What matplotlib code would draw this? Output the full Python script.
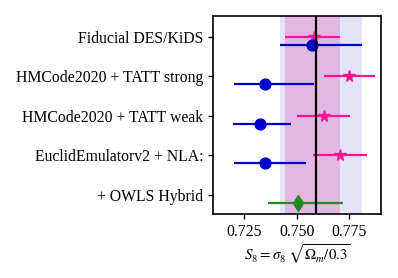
import matplotlib
matplotlib.use("Agg")
import matplotlib.pyplot as plt
import numpy as np

plt.rcParams["font.family"] = "Liberation Serif"
plt.rcParams["mathtext.fontset"] = "stix"

# Data
labels = ["Fiducial DES/KiDS", "HMCode2020 + TATT strong", "HMCode2020 + TATT weak",
          "EuclidEmulatorv2 + NLA:", "+ OWLS Hybrid"]

# pink stars (upper row of each pair)
pink_mid = [0.7582, 0.7749, 0.7630, 0.7706]
pink_lo = [0.7444, 0.7629, 0.7499, 0.7576]
pink_hi = [0.7703, 0.7870, 0.7754, 0.7833]

# blue circles (lower row)
blue_mid = [0.7571, 0.7348, 0.7325, 0.7346]
blue_lo = [0.7420, 0.7202, 0.7195, 0.7198]
blue_hi = [0.7811, 0.7581, 0.7470, 0.7541]

# green diamond
green_mid = 0.7505
green_lo = 0.7360
green_hi = 0.7720

fid_line = 0.759
pink_band = (0.7444, 0.7703)
blue_band = (0.7420, 0.7811)

fig = plt.figure(figsize=(3.98, 2.78), dpi=100)
ax = fig.add_axes([0.535, 0.230, 0.422, 0.712])

ypos = np.arange(len(labels))[::-1]  # 4..0
off = 0.2

ax.axvspan(*blue_band, color="#e4e4f8", lw=0, zorder=0)
ax.axvspan(*pink_band, color="#e2b8e2", lw=0, zorder=1)
ax.axvline(fid_line, color="black", lw=1.6, zorder=5)

pm = np.array(pink_mid)
ax.errorbar(pm, ypos[:4], xerr=[pm - np.array(pink_lo), np.array(pink_hi) - pm],
            fmt="*", color="#ff1493", ms=8.5, lw=1.6, capsize=0, zorder=4)
bm = np.array(blue_mid)
ax.errorbar(bm, ypos[:4] - off, xerr=[bm - np.array(blue_lo), np.array(blue_hi) - bm],
            fmt="o", color="#0000cd", ms=7.8, lw=1.6, capsize=0, zorder=4)
ax.errorbar([green_mid], [ypos[4] - off], xerr=[[green_mid - green_lo], [green_hi - green_mid]],
            fmt="d", color="#228b22", ms=8.5, lw=1.6, capsize=0, zorder=4)

ax.set_xlim(0.710, 0.790)
ax.set_ylim(-0.48, 4.52)
ax.set_xticks([0.725, 0.750, 0.775])
ax.set_yticks(ypos)
ax.set_yticklabels(labels)
ax.tick_params(labelsize=11.3, width=1.0)
for s in ax.spines.values():
    s.set_linewidth(1.2)
ax.set_xlabel(r"$S_8 = \sigma_8\;\sqrt{\Omega_m/0.3}$", fontsize=10.8, labelpad=2)

fig.savefig("out.png", dpi=100)
